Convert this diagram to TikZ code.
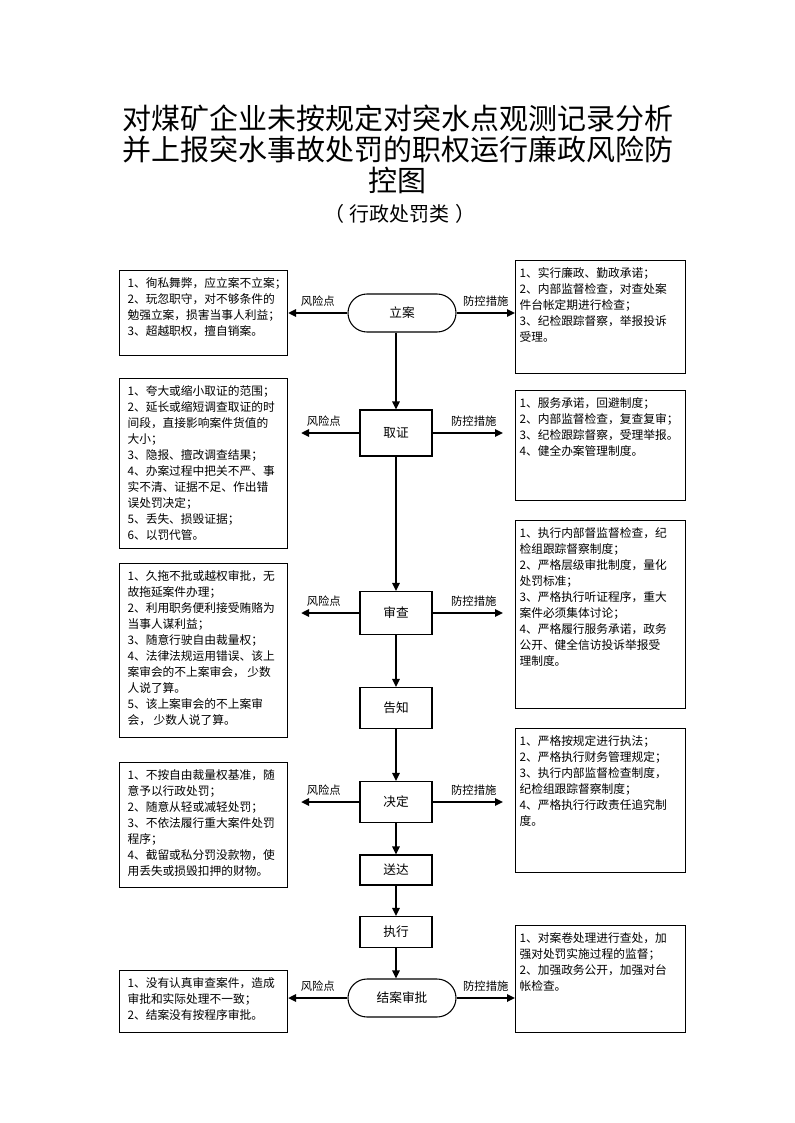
\documentclass[tikz,border=0pt]{standalone}
\usepackage{fontspec}
\setmainfont{Noto Sans CJK SC}
\usepackage{tikz}
\usetikzlibrary{arrows.meta, positioning, shapes.misc}

\newcommand{\boxpar}[3]{\parbox[t][#1][t]{#2}{\raggedright #3}}

\begin{document}
\begin{tikzpicture}[
    x=0.75pt, y=-0.75pt,
    font=\fontsize{8.8}{12}\selectfont,
    >=Triangle,
    stage/.style={draw, line width=0.8pt, minimum width=54pt, inner sep=0pt, font=\fontsize{9.5}{11}\selectfont},
    endbox/.style={stage, rounded rectangle, minimum width=81pt, minimum height=28.5pt},
    riskbox/.style={draw, line width=0.8pt, anchor=north west, inner xsep=6pt, inner ysep=5pt},
    ctrlbox/.style={riskbox, inner xsep=3pt},
    arr/.style={-{Triangle[length=6pt,width=5.5pt]}, line width=1.7pt},
    lbl/.style={font=\fontsize{8.5}{10}\selectfont, inner sep=1pt}
]
\useasboundingbox (0,0) rectangle (794,1123);

% === TITLE ===
\node[align=center, font=\fontsize{21.75}{23.25}\selectfont] (title) at (397.5,149) {对煤矿企业未按规定对突水点观测记录分析\\并上报突水事故处罚的职权运行廉政风险防\\控图};
\node[font=\fontsize{15}{17}\selectfont] (sub) at (400,214) {（\hspace{4pt}行政处罚类\hspace{4pt}）};

% === CENTRE: procedure steps ===
\node[endbox] (la) at (402,313) {立案};
\node[stage, minimum height=34.5pt] (qz) at (396,433) {取证};
\node[stage, minimum height=32.25pt] (sc) at (396,613) {审查};
\node[stage, minimum height=30.75pt] (gz) at (396,708) {告知};
\node[stage, minimum height=30.75pt] (jd) at (396,802) {决定};
\node[stage, minimum height=22.5pt] (sd) at (396,870) {送达};
\node[stage, minimum height=23.25pt] (zx) at (396,932) {执行};
\node[endbox] (ja) at (402,998) {结案审批};

% === LEFT: risk points ===
\node[riskbox] (risk1) at (119,270) {\boxpar{53.75pt}{114pt}{1、徇私舞弊，应立案不立案；\\2、玩忽职守，对不够条件的\\勉强立案，损害当事人利益；\\3、超越职权，擅自销案。}};
\node[riskbox] (risk2) at (119,378) {\boxpar{117.5pt}{114pt}{1、夸大或缩小取证的范围；\\2、延长或缩短调查取证的时\\间段，直接影响案件货值的\\大小；\\3、隐报、擅改调查结果；\\4、办案过程中把关不严、事\\实不清、证据不足、作出错\\误处罚决定；\\5、丢失、损毁证据；\\6、以罚代管。}};
\node[riskbox] (risk3) at (119,563) {\boxpar{120.5pt}{114pt}{1、久拖不批或越权审批，无\\故拖延案件办理；\\2、利用职务便利接受贿赂为\\当事人谋利益；\\3、随意行驶自由裁量权；\\4、法律法规运用错误、该上\\案审会的不上案审会， 少数\\人说了算。\\5、该上案审会的不上案审\\会， 少数人说了算。}};
\node[riskbox] (risk4) at (119,762) {\boxpar{83.75pt}{114pt}{1、不按自由裁量权基准，随\\意予以行政处罚；\\2、随意从轻或减轻处罚；\\3、不依法履行重大案件处罚\\程序；\\4、截留或私分罚没款物，使\\用丢失或损毁扣押的财物。}};
\node[riskbox] (risk5) at (119,970) {\boxpar{36.5pt}{114pt}{1、没有认真审查案件，造成\\审批和实际处理不一致；\\2、结案没有按程序审批。}};

% === RIGHT: control measures ===
\node[ctrlbox] (ctrl1) at (515,260) {\boxpar{74.75pt}{121.5pt}{1、实行廉政、勤政承诺；\\2、内部监督检查，对查处案\\件台帐定期进行检查；\\3、纪检跟踪督察，举报投诉\\受理。}};
\node[ctrlbox] (ctrl2) at (515,390) {\boxpar{72.5pt}{121.5pt}{1、服务承诺，回避制度；\\2、内部监督检查，复查复审；\\3、纪检跟踪督察，受理举报。\\4、健全办案管理制度。}};
\node[ctrlbox] (ctrl3) at (515,520) {\boxpar{131pt}{121.5pt}{1、执行内部督监督检查，纪\\检组跟踪督察制度；\\2、严格层级审批制度，量化\\处罚标准；\\3、严格执行听证程序，重大\\案件必须集体讨论；\\4、严格履行服务承诺，政务\\公开、健全信访投诉举报受\\理制度。}};
\node[ctrlbox] (ctrl4) at (515,728) {\boxpar{98pt}{121.5pt}{1、严格按规定进行执法；\\2、严格执行财务管理规定；\\3、执行内部监督检查制度，\\纪检组跟踪督察制度；\\4、严格执行行政责任追究制\\度。}};
\node[ctrlbox] (ctrl5) at (515,925) {\boxpar{70.25pt}{121.5pt}{1、对案卷处理进行查处，加\\强对处罚实施过程的监督；\\2、加强政务公开，加强对台\\帐检查。}};

% === ARROWS ===
% main flow
\draw[arr] (qz.north |- la.south) -- (qz.north);
\draw[arr] (qz.south) -- (sc.north);
\draw[arr] (sc.south) -- (gz.north);
\draw[arr] (gz.south) -- (jd.north);
\draw[arr] (jd.south) -- (sd.north);
\draw[arr] (sd.south) -- (zx.north);
\draw[arr] (zx.south) -- (zx.south |- ja.north);

% risk points (left)
\draw[arr] (la.west) -- node[lbl, above=3pt] {风险点} (la.west -| risk1.east);
\draw[arr, shorten >=9.75pt] (qz.west) -- node[lbl, above=3pt] {风险点} (qz.west -| risk2.east);
\draw[arr, shorten >=9.75pt] (sc.west) -- node[lbl, above=3pt] {风险点} (sc.west -| risk3.east);
\draw[arr, shorten >=9.75pt] (jd.west) -- node[lbl, above=3pt] {风险点} (jd.west -| risk4.east);
\draw[arr] (ja.west) -- node[lbl, above=3pt] {风险点} (ja.west -| risk5.east);

% control measures (right)
\draw[arr] (la.east) -- node[lbl, above=3pt] {防控措施} (la.east -| ctrl1.west);
\draw[arr, shorten >=9pt] (qz.east) -- node[lbl, above=3pt] {防控措施} (qz.east -| ctrl2.west);
\draw[arr, shorten >=9pt] (sc.east) -- node[lbl, above=3pt] {防控措施} (sc.east -| ctrl3.west);
\draw[arr, shorten >=9pt] (jd.east) -- node[lbl, above=3pt] {防控措施} (jd.east -| ctrl4.west);
\draw[arr] (ja.east) -- node[lbl, above=3pt] {防控措施} (ja.east -| ctrl5.west);

\end{tikzpicture}
\end{document}
